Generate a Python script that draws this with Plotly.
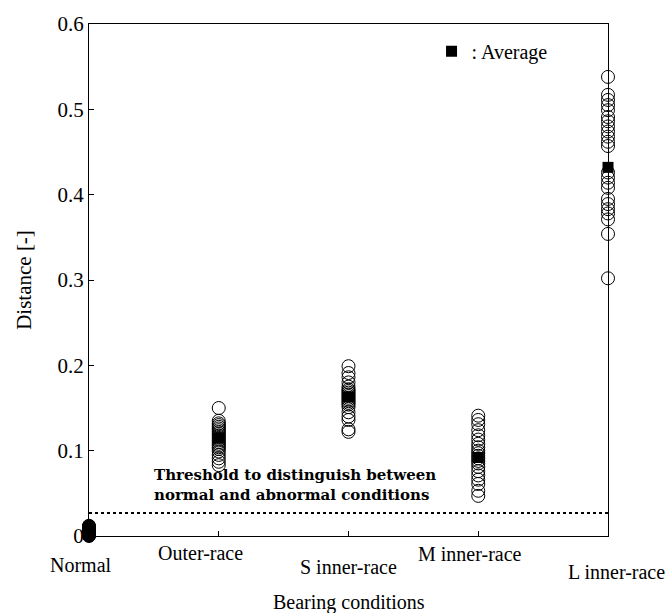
import plotly.graph_objects as go

categories = ["Normal", "Outer-race", "S inner-race", "M inner-race", "L inner-race"]
normal = [0.000, 0.001, 0.002, 0.003, 0.004, 0.005, 0.006, 0.007, 0.008, 0.009, 0.010, 0.011, 0.012]
outer = [0.150, 0.135, 0.132, 0.130, 0.128, 0.126, 0.124, 0.122, 0.120, 0.118, 0.116, 0.114,
         0.112, 0.110, 0.108, 0.106, 0.104, 0.102, 0.099, 0.095, 0.091, 0.087, 0.083]
s_inner = [0.199, 0.191, 0.186, 0.180, 0.175, 0.172, 0.170, 0.168, 0.166, 0.164, 0.162, 0.160,
           0.158, 0.156, 0.154, 0.151, 0.145, 0.140, 0.136, 0.125, 0.122]
m_inner = [0.141, 0.136, 0.131, 0.124, 0.118, 0.113, 0.108, 0.104, 0.100, 0.097, 0.094, 0.091,
           0.088, 0.085, 0.081, 0.076, 0.071, 0.066, 0.061, 0.053, 0.047]
l_inner = [0.538, 0.517, 0.511, 0.505, 0.499, 0.491, 0.486, 0.480, 0.474, 0.468, 0.462, 0.457,
           0.426, 0.420, 0.414, 0.408, 0.395, 0.389, 0.383, 0.378, 0.371, 0.354, 0.302]
averages = [0.004, 0.115, 0.163, 0.092, 0.432]
threshold = 0.027
threshold_text = ["Threshold to distinguish between", "normal and abnormal conditions"]

series = [normal, outer, s_inner, m_inner, l_inner]

SERIF = "Liberation Serif, Times New Roman, serif"

fig = go.Figure()

for i, vals in enumerate(series):
    fig.add_trace(go.Scatter(
        x=[i] * len(vals), y=vals, mode="markers",
        marker=dict(symbol="circle-open", size=13, color="black", line=dict(width=1, color="black")),
        showlegend=False, cliponaxis=False, hoverinfo="y",
    ))

# Normal cluster appears solid
fig.add_trace(go.Scatter(
    x=[0] * len(normal), y=normal, mode="markers",
    marker=dict(symbol="circle", size=13, color="black"),
    showlegend=False, cliponaxis=False, hoverinfo="skip",
))

fig.add_trace(go.Scatter(
    x=list(range(len(categories))), y=averages, mode="markers", name=": Average",
    marker=dict(symbol="square", size=11, color="black"),
    showlegend=True, cliponaxis=False,
))

# threshold line
fig.add_trace(go.Scatter(
    x=[0, len(categories) - 1], y=[threshold, threshold], mode="lines",
    line=dict(color="black", width=2, dash="dot"), showlegend=False, hoverinfo="skip",
))

annotations = []
xshifts = [-8, -18, 0, -8, 8]
yshifts = [-16, -4, -18, -5, -23]
for i, c in enumerate(categories):
    annotations.append(dict(
        x=i, y=0, xref="x", yref="paper", text=c, showarrow=False,
        xanchor="center", yanchor="top", xshift=xshifts[i], yshift=yshifts[i],
        font=dict(family=SERIF, size=20, color="black"),
    ))
annotations.append(dict(
    x=0.5, y=0, xref="paper", yref="paper", text="Bearing conditions", showarrow=False,
    xanchor="center", yanchor="top", yshift=-53,
    font=dict(family=SERIF, size=20, color="black"),
))
annotations.append(dict(
    x=0.123, y=485, xref="paper", yref="paper",
    text="<b>" + threshold_text[0] + "</b><br><b>" + threshold_text[1] + "</b>",
    showarrow=False, xanchor="left", yanchor="middle", align="left", borderpad=0,
    font=dict(family="DejaVu Serif", size=15, color="black"),
))

# convert pixel y for threshold text annotation to paper coords
top, bottom = 19, 536
for a in annotations:
    if isinstance(a["y"], (int, float)) and a["y"] > 1:
        a["y"] = (bottom - a["y"]) / (bottom - top)

fig.update_layout(
    width=671, height=613,
    margin=dict(l=89, r=63, t=19, b=77),
    paper_bgcolor="white", plot_bgcolor="white",
    font=dict(family=SERIF, size=20, color="black"),
    annotations=annotations,
    legend=dict(x=0.66, y=0.985, xanchor="left", yanchor="top",
                bgcolor="rgba(0,0,0,0)", borderwidth=0, itemwidth=30,
                font=dict(family=SERIF, size=20, color="black")),
    xaxis=dict(range=[0, 4], tickvals=list(range(5)), ticktext=[""] * 5,
               ticks="inside", ticklen=5, tickcolor="black",
               showline=True, linecolor="black", linewidth=1, mirror=True,
               showgrid=False, zeroline=False),
    yaxis=dict(range=[0, 0.6], tickvals=[0, 0.1, 0.2, 0.3, 0.4, 0.5, 0.6],
               ticktext=["0", "0.1", "0.2", "0.3", "0.4", "0.5", "0.6"],
               ticks="inside", ticklen=5, tickcolor="black",
               showline=True, linecolor="black", linewidth=1, mirror=True,
               showgrid=False, zeroline=False,
               title=dict(text="Distance [-]", font=dict(family=SERIF, size=21), standoff=20),
               tickfont=dict(family=SERIF, size=21)),
)

fig.write_html("out.html")
